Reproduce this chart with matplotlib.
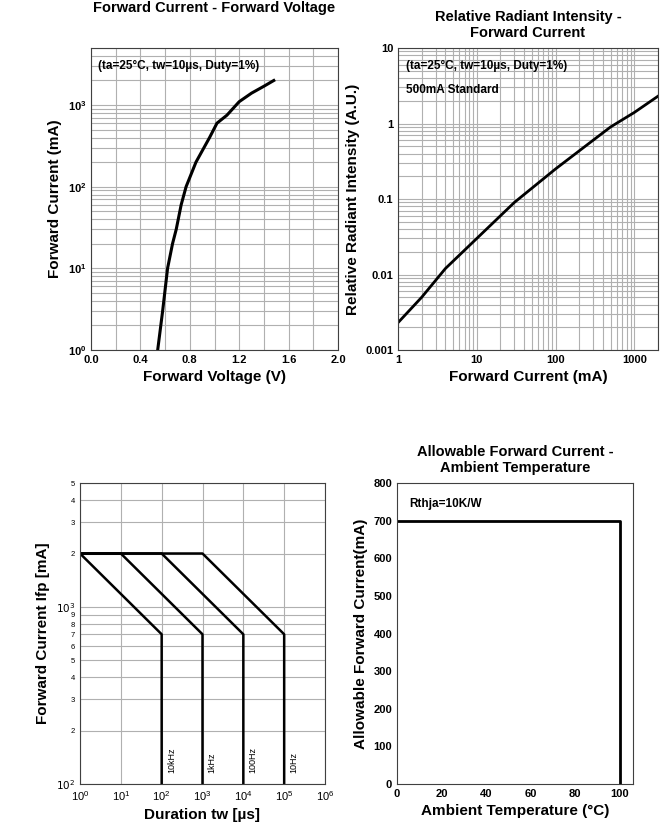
import numpy as np
import matplotlib.pyplot as plt
from matplotlib.ticker import FixedLocator, NullFormatter, FixedFormatter

plt.rcParams['font.family'] = ['Liberation Sans', 'DejaVu Sans']

# data
fv_volt = [0.54, 0.58, 0.62, 0.66, 0.69, 0.73, 0.77, 0.85, 0.96, 1.02, 1.10, 1.20, 1.30, 1.40, 1.48]
fv_curr = [1, 3, 10, 20, 30, 60, 100, 200, 400, 600, 750, 1100, 1400, 1700, 2000]

ri_curr = [1, 2, 4, 10, 30, 100, 300, 500, 1000, 2000]
ri_int = [0.0023, 0.005, 0.012, 0.03, 0.09, 0.25, 0.6, 0.9, 1.4, 2.3]

pulse_freqs = ['10kHz', '1kHz', '100Hz', '10Hz']
pulse_knee = [1, 10, 100, 1000]        # end of flat 2000 mA part (us)
pulse_end = [100, 1000, 10000, 100000]  # where curve reaches 700 mA (us)
pulse_max = 2000
pulse_min = 700

derate_temp = [0, 100, 100]
derate_curr = [700, 700, 0]

W, H = 667, 834
fig = plt.figure(figsize=(W / 100, H / 100), dpi=100)

def add_ax(x0, y0, x1, y1):
    return fig.add_axes([x0 / W, 1 - y1 / H, (x1 - x0) / W, (y1 - y0) / H])

grid_kw = dict(color='#b0b0b0', linewidth=0.8)
bold = dict(fontweight='bold')

# 1. forward current - forward voltage
ax1 = add_ax(91, 48, 338, 350)
ax1.semilogy(fv_volt, fv_curr, color='black', linewidth=2.2)
ax1.set_xlim(0, 2.0)
ax1.set_ylim(1, 5000)
ax1.set_xticks([0.0, 0.4, 0.8, 1.2, 1.6, 2.0])
ax1.set_xticks([0.2, 0.6, 1.0, 1.4, 1.8], minor=True)
ax1.set_xticklabels(['0.0', '0.4', '0.8', '1.2', '1.6', '2.0'], fontsize=8, **bold)
ax1.grid(True, which='both', **grid_kw)
ax1.tick_params(which='both', length=0, labelsize=8)
ax1.set_title('Forward Current - Forward Voltage', fontsize=10.5, pad=26, **bold)
ax1.set_xlabel('Forward Voltage (V)', fontsize=11, **bold)
ax1.set_ylabel('Forward Current (mA)', fontsize=11, **bold)
ax1.text(0.03, 0.96, '(ta=25°C, tw=10µs, Duty=1%)', transform=ax1.transAxes,
         fontsize=8.5, va='top', **bold)
for l in ax1.get_yticklabels():
    l.set_fontweight('bold')

# 2. relative radiant intensity - forward current
ax2 = add_ax(398, 48, 658, 350)
ax2.loglog(ri_curr, ri_int, color='black', linewidth=2)
ax2.set_xlim(1, 2000)
ax2.set_ylim(0.001, 10)
ax2.set_xticks([1, 10, 100, 1000])
ax2.set_xticklabels(['1', '10', '100', '1000'])
ax2.set_yticks([0.001, 0.01, 0.1, 1, 10])
ax2.set_yticklabels(['0.001', '0.01', '0.1', '1', '10'])
ax2.xaxis.set_minor_formatter(NullFormatter())
ax2.yaxis.set_minor_formatter(NullFormatter())
ax2.grid(True, which='both', **grid_kw)
ax2.tick_params(which='both', length=0, labelsize=8)
for l in ax2.get_xticklabels() + ax2.get_yticklabels():
    l.set_fontweight('bold')
ax2.set_title('Relative Radiant Intensity -\nForward Current', fontsize=10.5, pad=8, **bold)
ax2.set_xlabel('Forward Current (mA)', fontsize=11, **bold)
ax2.set_ylabel('Relative Radiant Intensity (A.U.)', fontsize=11, **bold)
ax2.text(0.03, 0.96, '(ta=25°C, tw=10µs, Duty=1%)', transform=ax2.transAxes,
         fontsize=8.5, va='top', **bold)
ax2.text(0.03, 0.88, '500mA Standard', transform=ax2.transAxes,
         fontsize=8.5, va='top', **bold)

# 3. pulse current - duration
ax3 = add_ax(80, 483, 325, 784)
for f, k, e in zip(pulse_freqs, pulse_knee, pulse_end):
    ax3.plot([1, k, e, e], [pulse_max, pulse_max, pulse_min, 100], color='black', linewidth=1.8)
    ax3.text(e * 1.35, 115, f, rotation=90, fontsize=6.5, ha='left', va='bottom')
ax3.set_xscale('log')
ax3.set_yscale('log')
ax3.set_xlim(1, 1e6)
ax3.set_ylim(100, 5000)
ax3.xaxis.set_minor_locator(FixedLocator([]))
yt = [100, 200, 300, 400, 500, 600, 700, 800, 900, 1000, 2000, 3000, 4000, 5000]
ylab = ['$10^2$', '2', '3', '4', '5', '6', '7', '8', '9', '$10^3$', '2', '3', '4', '5']
ax3.yaxis.set_major_locator(FixedLocator(yt))
ax3.yaxis.set_major_formatter(FixedFormatter(ylab))
ax3.yaxis.set_minor_locator(FixedLocator([]))
ax3.grid(True, which='major', **grid_kw)
ax3.tick_params(which='both', length=0, labelsize=5.5)
ax3.tick_params(axis='x', labelsize=8)
ax3.set_xlabel('Duration tw [µs]', fontsize=11, **bold)
ax3.set_ylabel('Forward Current Ifp [mA]', fontsize=11, **bold)
for l in ax3.get_yticklabels():
    if l.get_text().startswith('$'):
        l.set_fontsize(7.5)

# 4. derating
ax4 = add_ax(397, 483, 633, 784)
ax4.plot(derate_temp, derate_curr, color='black', linewidth=2)
ax4.set_xlim(0, 106)
ax4.set_ylim(0, 800)
ax4.set_xticks([0, 20, 40, 60, 80, 100])
ax4.set_yticks(range(0, 801, 100))
ax4.tick_params(length=0, labelsize=8)
for l in ax4.get_xticklabels() + ax4.get_yticklabels():
    l.set_fontweight('bold')
ax4.set_title('Allowable Forward Current -\nAmbient Temperature', fontsize=10.5, pad=8, **bold)
ax4.set_xlabel('Ambient Temperature (°C)', fontsize=11, **bold)
ax4.set_ylabel('Allowable Forward Current(mA)', fontsize=11, **bold)
ax4.text(0.05, 0.95, 'Rthja=10K/W', transform=ax4.transAxes, fontsize=8.5, va='top', **bold)

for ax in (ax1, ax2, ax3, ax4):
    for s in ax.spines.values():
        s.set_color('#404040')

fig.savefig('out.png', dpi=100)
